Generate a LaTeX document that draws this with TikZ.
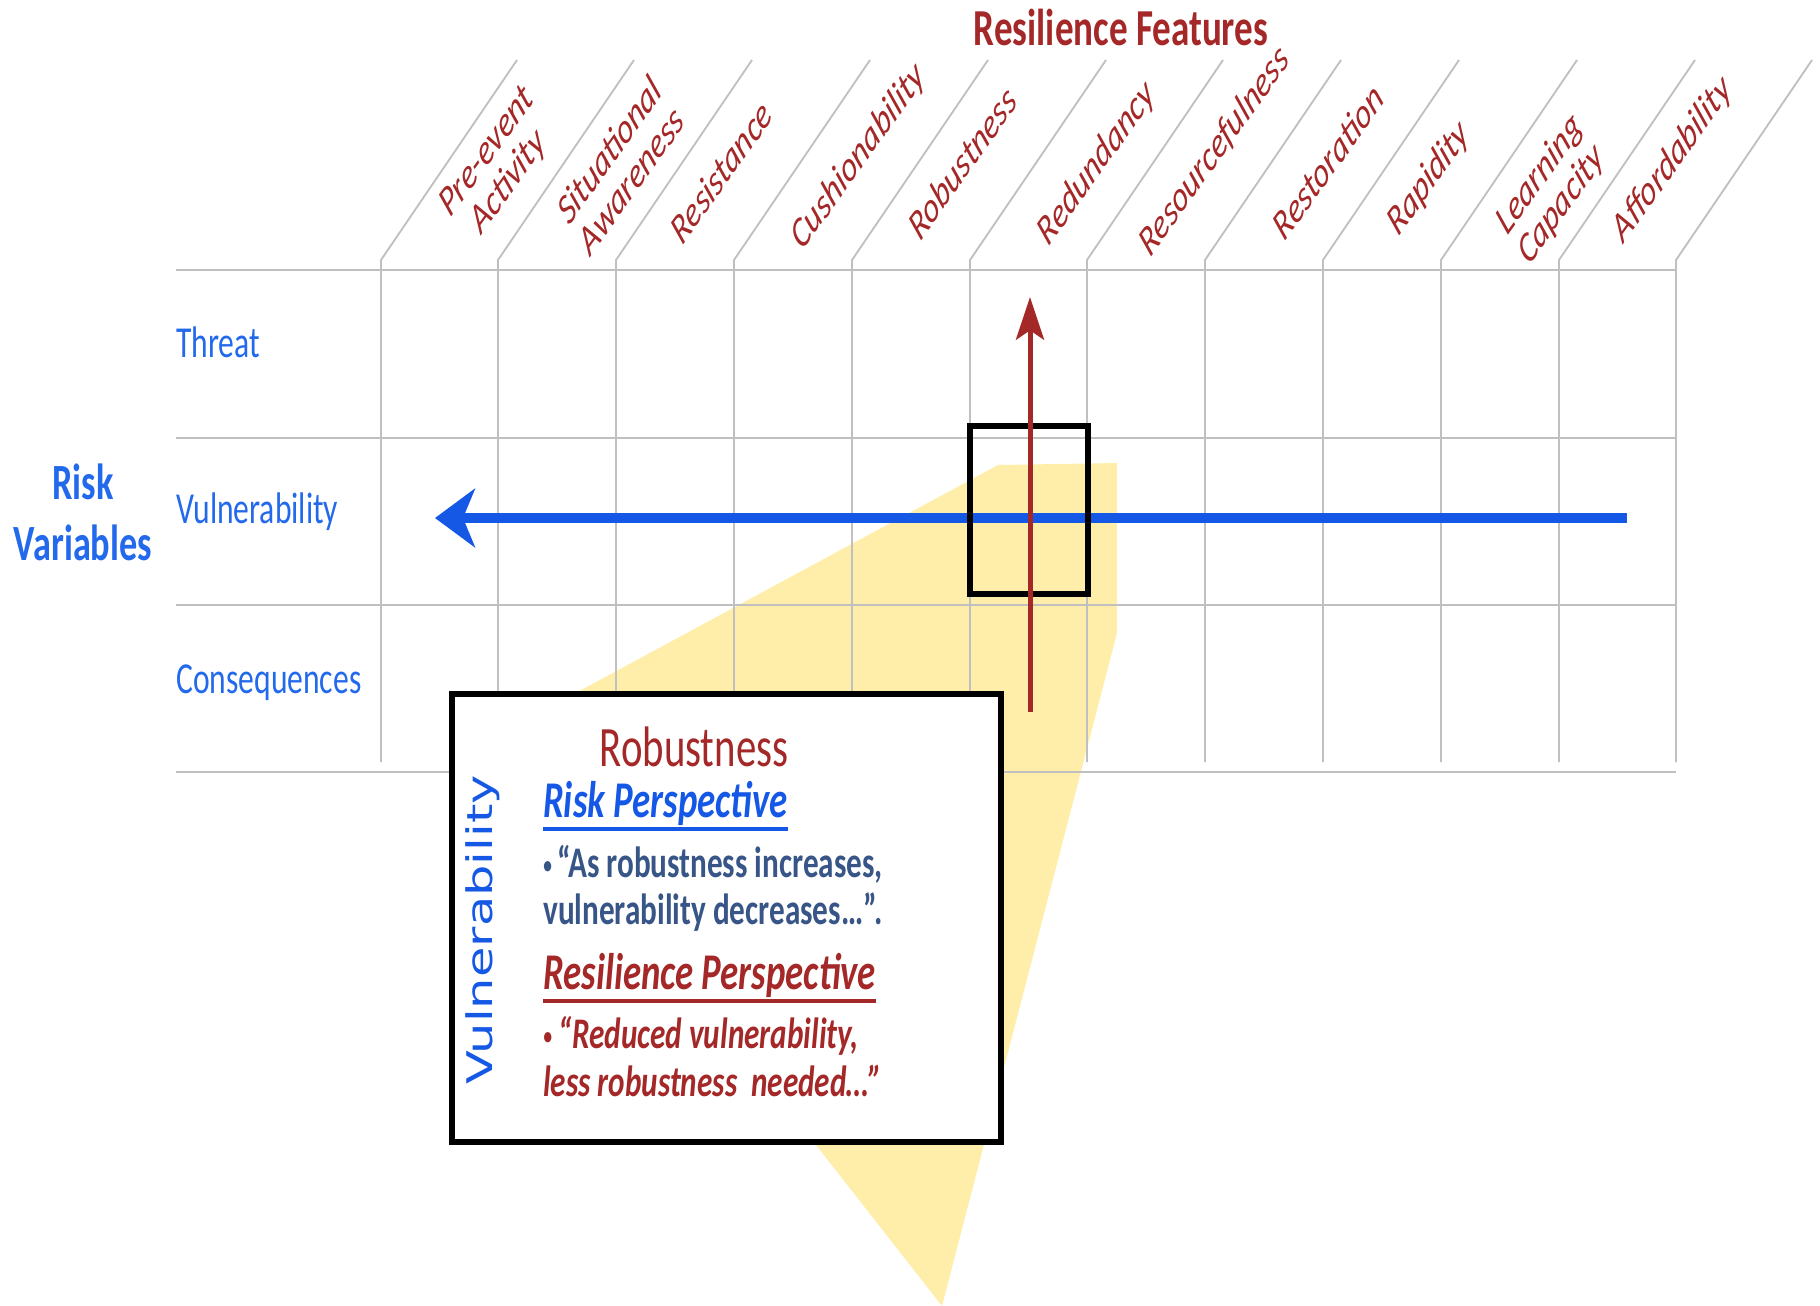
\documentclass[tikz,border=0pt]{standalone}
\usepackage{fontspec}
\setmainfont{Carlito}
\newfontfamily\gothfont{DejaVu Sans}
\usepackage{graphicx}
\usepackage{tikz}
\usetikzlibrary{arrows.meta}

\definecolor{featred}{RGB}{165,40,40}
\definecolor{riskblue}{RGB}{35,105,235}
\definecolor{arrowblue}{RGB}{22,88,230}
\definecolor{slateblue}{RGB}{55,85,135}
\definecolor{gridgray}{RGB}{192,192,192}
\definecolor{patchyellow}{RGB}{255,238,170}

\newcommand{\tallbox}[1]{\scalebox{1}[1.4]{#1}}
\newcommand{\slantlabel}[1]{\tallbox{\rotatebox{45}{\begin{tabular}{@{}c@{}}#1\end{tabular}}}}
\newcommand{\thickunder}[1]{\setbox0\hbox{#1}\vtop{\copy0\kern1pt\hrule height 2.2pt width \wd0}}
\newcommand{\smallbullet}{\raisebox{2pt}{\fontsize{13}{13}\selectfont •}}

\tikzset{
  gridline/.style={color=gridgray, line width=1.4pt},
  rowline/.style={color=gridgray, line width=2.2pt},
  yellowpatch/.style={fill=patchyellow},
  feat/.style={inner sep=0pt, text=featred, font=\fontsize{23}{23}\selectfont\itshape},
  title/.style={anchor=base, inner sep=0pt, text=featred, font=\fontsize{27.8}{33}\selectfont\bfseries},
  rowlabel/.style={anchor=base west, inner sep=0pt, text=riskblue, font=\fontsize{23.7}{28}\selectfont},
  risklabel/.style={anchor=base, inner sep=0pt, text=riskblue, font=\fontsize{27.2}{32.7}\selectfont\bfseries},
  bluearrow/.style={color=arrowblue, line width=7.5pt, -{Stealth[length=30pt,width=44pt,inset=9pt]}},
  redarrow/.style={color=featred, line width=3.75pt, -{Stealth[length=32pt,width=21pt,inset=7pt]}},
  cellbox/.style={draw=black, line width=4.5pt, inner sep=0pt},
  infobox/.style={draw=black, fill=white, line width=4.5pt, inner sep=0pt},
  boxtitle/.style={anchor=base, inner sep=0pt, text=featred, font=\fontsize{30.6}{36}\selectfont},
  persp/.style={anchor=base west, inner sep=0pt, font=\fontsize{27.6}{33}\selectfont\bfseries\itshape},
  quote/.style={anchor=base west, inner sep=0pt, font=\fontsize{23.4}{25.2}\selectfont\bfseries},
  vlabel/.style={inner sep=0pt, text=arrowblue, font=\gothfont\fontsize{26.5}{30}\selectfont}
}

\begin{document}
\begin{tikzpicture}[x=0.75pt,y=0.75pt,yscale=-1,xscale=1]
\useasboundingbox (0,0) rectangle (1820,1306);

% Shape: Polygon
\fill [yellowpatch] (998,465) -- (1117,463) -- (1117,633) -- (942,1306) -- (496,736) -- cycle ;

% Grid column
\draw [gridline] (381,762) -- (381,260) -- (517,60) ;
% Grid column
\draw [gridline] (498,762) -- (498,260) -- (634,60) ;
% Grid column
\draw [gridline] (616,762) -- (616,260) -- (752,60) ;
% Grid column
\draw [gridline] (734,762) -- (734,260) -- (870,60) ;
% Grid column
\draw [gridline] (852,762) -- (852,260) -- (988,60) ;
% Grid column
\draw [gridline] (970,762) -- (970,260) -- (1106,60) ;
% Grid column
\draw [gridline] (1087,762) -- (1087,260) -- (1223,60) ;
% Grid column
\draw [gridline] (1205,762) -- (1205,260) -- (1341,60) ;
% Grid column
\draw [gridline] (1323,762) -- (1323,260) -- (1459,60) ;
% Grid column
\draw [gridline] (1441,762) -- (1441,260) -- (1577,60) ;
% Grid column
\draw [gridline] (1559,762) -- (1559,260) -- (1695,60) ;
% Grid column
\draw [gridline] (1676,762) -- (1676,260) -- (1812,60) ;
% Grid row
\draw [rowline] (176,270) -- (1676,270) ;
% Grid row
\draw [rowline] (176,438) -- (1676,438) ;
% Grid row
\draw [rowline] (176,605) -- (1676,605) ;
% Grid row
\draw [rowline] (176,772) -- (1676,772) ;

% Text Node
\draw (1121,46) node [title] (feattitle) {\tallbox{Resilience Features}};
% Text Node
\draw (499,169) node [feat] (pre) {\slantlabel{Pre-event\\Activity}};
% Text Node
\draw (623,169) node [feat] (sit) {\slantlabel{Situational\\Awareness}};
% Text Node
\draw (724,176) node [feat] (resist) {\slantlabel{Resistance}};
% Text Node
\draw (860,159) node [feat] (cush) {\slantlabel{Cushionability}};
% Text Node
\draw (965,167) node [feat] (robust) {\slantlabel{Robustness}};
% Text Node
\draw (1098,166) node [feat] (redund) {\slantlabel{Redundancy}};
% Text Node
\draw (1216,154) node [feat] (resource) {\slantlabel{Resourcefulness}};
% Text Node
\draw (1331,166) node [feat] (restore) {\slantlabel{Restoration}};
% Text Node
\draw (1430,181) node [feat] (rapid) {\slantlabel{Rapidity}};
% Text Node
\draw (1552,192) node [feat] (learn) {\slantlabel{Learning\\Capacity}};
% Text Node
\draw (1674,162) node [feat] (afford) {\slantlabel{Affordability}};

% Text Node
\draw (83,499) node [risklabel] (riskvar) {\tallbox{\begin{tabular}[t]{@{}c@{}}Risk\\Variables\end{tabular}}};
% Text Node
\draw (176,357) node [rowlabel] (threat) {\tallbox{Threat}};
% Text Node
\draw (176,523) node [rowlabel] (vulrow) {\tallbox{Vulnerability}};
% Text Node
\draw (176,693) node [rowlabel] (conseq) {\tallbox{Consequences}};

% Connection
\coordinate (vstart) at (1627,518);
\coordinate (vend) at (435,518);
\draw [bluearrow] (vstart) -- (vend) ;
% Highlighted cell
\draw (1029,510) node [cellbox, minimum width=88pt, minimum height=126pt] (cell) {};
% Connection
\coordinate (rstart) at (1030,712);
\coordinate (rend) at (1030,297);
\draw [redarrow] (rstart) -- (rend) ;

% Info box
\draw (726,918) node [infobox, minimum width=411.75pt, minimum height=336pt] (info) {};
% Text Node
\draw (483,930) node [vlabel] (vulbox) {\tallbox{\rotatebox{90}{Vulnerability}}};
% Text Node
\draw (694,766) node [boxtitle] (robtitle) {\tallbox{Robustness}};
% Text Node
\draw (543,817) node [persp, text=arrowblue] (riskp) {\tallbox{\thickunder{Risk Perspective}}};
% Text Node
\draw (543,877) node [quote, text=slateblue] (riskq) {\tallbox{\begin{tabular}[t]{@{}l@{}}\smallbullet\,“As robustness increases,\\vulnerability decreases…”.\end{tabular}}};
% Text Node
\draw (543,989) node [persp, text=featred] (resp) {\tallbox{\thickunder{Resilience Perspective}}};
% Text Node
\draw (543,1048) node [quote, text=featred, font=\fontsize{23.4}{26.2}\selectfont\bfseries\itshape] (resq) {\tallbox{\begin{tabular}[t]{@{}l@{}}\smallbullet\ “Reduced vulnerability,\\less robustness\ \ needed…”\end{tabular}}};

\end{tikzpicture}
\end{document}
